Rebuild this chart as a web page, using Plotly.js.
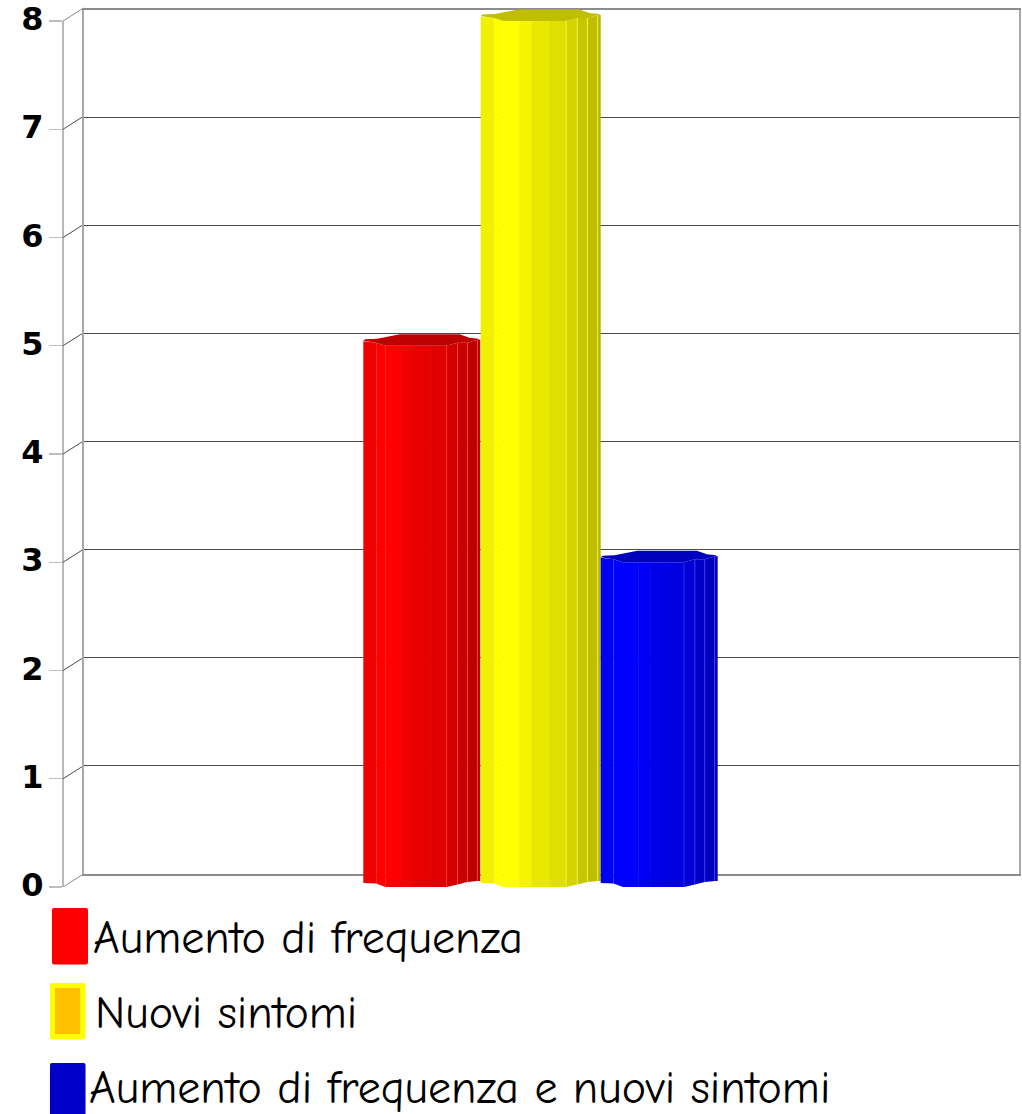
<!DOCTYPE html>
<html>
<head>
<meta charset="utf-8">
<script src="https://cdn.plot.ly/plotly-3.0.1.min.js"></script>
<style>
html,body{margin:0;padding:0;background:#fff}
/* heavier value-axis digits */
.ytick text{stroke:#000;stroke-width:1.1px}
</style>
</head>
<body>
<div id="chart" style="width:1022px;height:1114px"></div>
<script>
// Chart data
const seriesNames = ["Aumento di frequenza", "Nuovi sintomi", "Aumento di frequenza e nuovi sintomi"];
const seriesValues = [5, 8, 3];
const tickValues = [0, 1, 2, 3, 4, 5, 6, 7, 8];
const tickLabels = ["0", "1", "2", "3", "4", "5", "6", "7", "8"];

// Series colours and placement of each faceted column
const seriesColors = [[255, 0, 0], [255, 255, 0], [0, 0, 255]];
const columnLeft = [363.3, 480.7, 600.7];
const columnWidth = [117, 120, 117];

// Page geometry
const W = 1022, H = 1114;
const frontZero = 887, unitPx = 108.25, frontLeft = 63;
const wallTop = 9.5, wallBottom = 874, wallLeft = 83.5, wallRight = 1019;
const frontTopValue = 8.15;
const px = v => v / unitPx;           // pixel offset -> value units
const py = y => (H - y) / H;          // page pixel -> paper fraction
const wallShift = (frontZero - wallBottom) / unitPx;

// Facet profile of a column: edge positions on a width of 118, and how far the
// upper and lower outlines rise (in pixels) above the column's flat front.
const edgeAt = [0, 13, 22.5, 38, 50, 68, 84, 95, 105, 115, 118];
const topRise = [4.5, 3, 0, 0, 0, 0, 0, 3, 3, 6, 6];
const bottomRise = [4, 3.5, 0, 0, 0, 0, 0, 2.5, 5, 6, 6];
const facetShade = [0.94, 1, 1, 0.96, 0.91, 0.88, 0.83, 0.78, 0.75, 0.72];
const flatFacets = [2, 3, 4, 5];
const sideFacets = [0, 1, 6, 7, 8, 9];
const paleEdges = [6, 7, 8, 9];

// Outline of the column's top cap: offset along the width, rise above the front
const capX = [0, 2, 14, 37, 97, 107, 116, 118];
const capRise = [5, 6.5, 7, 11.5, 11.5, 8, 7, 5.5];
const capShade = 0.75;

const shade = (rgb, f) => `rgb(${rgb.map(c => Math.round(c * f)).join(",")})`;
const pale = (rgb, t) => `rgb(${rgb.map(c => Math.round(c + (255 - c) * t)).join(",")})`;

// The back wall subplot holds no data; this empty trace keeps its axes drawn
const traces = [{ type: "scatter", mode: "none", x: [wallLeft], y: [0], showlegend: false, hoverinfo: "skip" }];

seriesValues.forEach((value, s) => {
  const color = seriesColors[s];
  const xAt = i => columnLeft[s] + edgeAt[i] * columnWidth[s] / 118;

  // Flat front facets are plain bars reaching the series value
  traces.push({
    type: "bar", xaxis: "x2", yaxis: "y2", name: seriesNames[s], showlegend: false,
    x: flatFacets.map(i => (xAt(i) + xAt(i + 1)) / 2),
    width: flatFacets.map(i => xAt(i + 1) - xAt(i) + 0.4),
    y: flatFacets.map(() => value),
    marker: { color: flatFacets.map(i => shade(color, facetShade[i])), line: { width: 0 } },
    hoverinfo: "skip"
  });

  // Curved sides: facets whose ends slant with the column's outline
  sideFacets.forEach(i => {
    traces.push({
      type: "scatter", mode: "lines", xaxis: "x2", yaxis: "y2", showlegend: false,
      x: [xAt(i), xAt(i + 1), xAt(i + 1), xAt(i), xAt(i)],
      y: [value + px(topRise[i]), value + px(topRise[i + 1]),
          px(bottomRise[i + 1]), px(bottomRise[i]), value + px(topRise[i])],
      fill: "toself", fillcolor: shade(color, facetShade[i]),
      line: { width: 0 }, hoverinfo: "skip"
    });
  });

  // Faint highlights along some facet edges
  paleEdges.forEach(i => {
    traces.push({
      type: "scatter", mode: "lines", xaxis: "x2", yaxis: "y2", showlegend: false,
      x: [xAt(i), xAt(i)],
      y: [px(bottomRise[i]), value + px(topRise[i])],
      line: { width: 0.7, color: pale(color, 0.25) }, hoverinfo: "skip"
    });
  });

  // Top cap
  const capXs = capX.map(d => columnLeft[s] + d * columnWidth[s] / 118);
  const frontXs = edgeAt.map((_, i) => xAt(i)).reverse();
  const frontYs = topRise.map(r => value + px(r)).reverse();
  traces.push({
    type: "scatter", mode: "lines", xaxis: "x2", yaxis: "y2", showlegend: false,
    x: capXs.concat(frontXs, capXs[0]),
    y: capRise.map(r => value + px(r)).concat(frontYs, value + px(capRise[0])),
    fill: "toself", fillcolor: shade(color, capShade),
    line: { width: 0 }, hoverinfo: "skip"
  });
});

// Left front axis and the slanted links to the back wall
const shapes = [{
  type: "line", layer: "below", xref: "paper", yref: "y2",
  x0: frontLeft / W, x1: frontLeft / W, y0: 0, y1: 8,
  line: { color: "#a8a8a8", width: 1.6 }
}];
tickValues.forEach(v => {
  const outer = v === 0 || v === 8;
  shapes.push({
    type: "line", layer: "below", xref: "paper", yref: "y2",
    x0: frontLeft / W, x1: wallLeft / W, y0: v, y1: v + wallShift,
    line: { color: outer ? "#8c8c8c" : "#4a4a4a", width: 1 }
  });
});

// Rounded legend swatches
const swatch = (x0, y0, x1, y1, fill, r) => ({
  type: "path", xref: "paper", yref: "paper", fillcolor: fill, line: { width: 0 },
  path: `M ${(x0 + r) / W} ${py(y0)} L ${(x1 - r) / W} ${py(y0)} Q ${x1 / W} ${py(y0)} ${x1 / W} ${py(y0 + r)} ` +
        `L ${x1 / W} ${py(y1 - r)} Q ${x1 / W} ${py(y1)} ${(x1 - r) / W} ${py(y1)} ` +
        `L ${(x0 + r) / W} ${py(y1)} Q ${x0 / W} ${py(y1)} ${x0 / W} ${py(y1 - r)} ` +
        `L ${x0 / W} ${py(y0 + r)} Q ${x0 / W} ${py(y0)} ${(x0 + r) / W} ${py(y0)} Z`
});
shapes.push(swatch(52, 908, 88, 964.5, "#ff0000", 2));
shapes.push(swatch(50, 983, 85.5, 1039.5, "#ffff00", 2));
shapes.push(swatch(55, 988, 80, 1034, "#ffc000", 0));
shapes.push(swatch(50, 1063, 85.5, 1120, "#0000c8", 2));

const legendX = [91, 93, 87];
const legendY = [938, 1013, 1088];
const annotations = seriesNames.map((name, i) => ({
  text: name, showarrow: false, xref: "paper", yref: "paper",
  x: legendX[i] / W, y: py(legendY[i]), xanchor: "left", yanchor: "middle",
  font: { family: "'Comic Sans MS','Comic Neue','Open Sans',sans-serif", size: 46, color: "#000" }
}));

const layout = {
  width: W, height: H, autosize: false,
  margin: { l: 0, r: 0, t: 0, b: 0, pad: 0 },
  paper_bgcolor: "#fff", plot_bgcolor: "rgba(0,0,0,0)",
  showlegend: false, barmode: "overlay",
  // Back wall: gridlines and frame
  xaxis: {
    domain: [wallLeft / W, wallRight / W], range: [wallLeft, wallRight],
    showgrid: false, zeroline: false, showticklabels: false, ticks: "",
    showline: true, mirror: true, linecolor: "#8c8c8c", linewidth: 1.6
  },
  yaxis: {
    domain: [py(wallBottom), py(wallTop)], range: [0, 8], tickmode: "array", tickvals: tickValues,
    showticklabels: false, ticks: "", showgrid: true, gridcolor: "#4a4a4a", gridwidth: 1,
    zeroline: false, showline: true, mirror: true, linecolor: "#a8a8a8", linewidth: 1.6
  },
  // Front plane: value axis and columns
  xaxis2: {
    domain: [frontLeft / W, 1], range: [frontLeft, W], anchor: "y2",
    showgrid: false, zeroline: false, showticklabels: false, ticks: "", showline: false
  },
  yaxis2: {
    domain: [py(frontZero), py(frontZero - frontTopValue * unitPx)], range: [0, frontTopValue],
    anchor: "x2", tickmode: "array", tickvals: tickValues, ticktext: tickLabels,
    ticks: "outside", ticklen: 13, tickwidth: 1.4, tickcolor: "#bdbdbd",
    ticklabelstandoff: -1, ticklabelshift: -2,
    tickfont: { family: "'DejaVu Sans'", size: 32, weight: 700, color: "#000" },
    showgrid: false, zeroline: false, showline: false
  },
  shapes, annotations
};

Plotly.newPlot("chart", traces, layout, { displayModeBar: false, staticPlot: true });
</script>
</body>
</html>
